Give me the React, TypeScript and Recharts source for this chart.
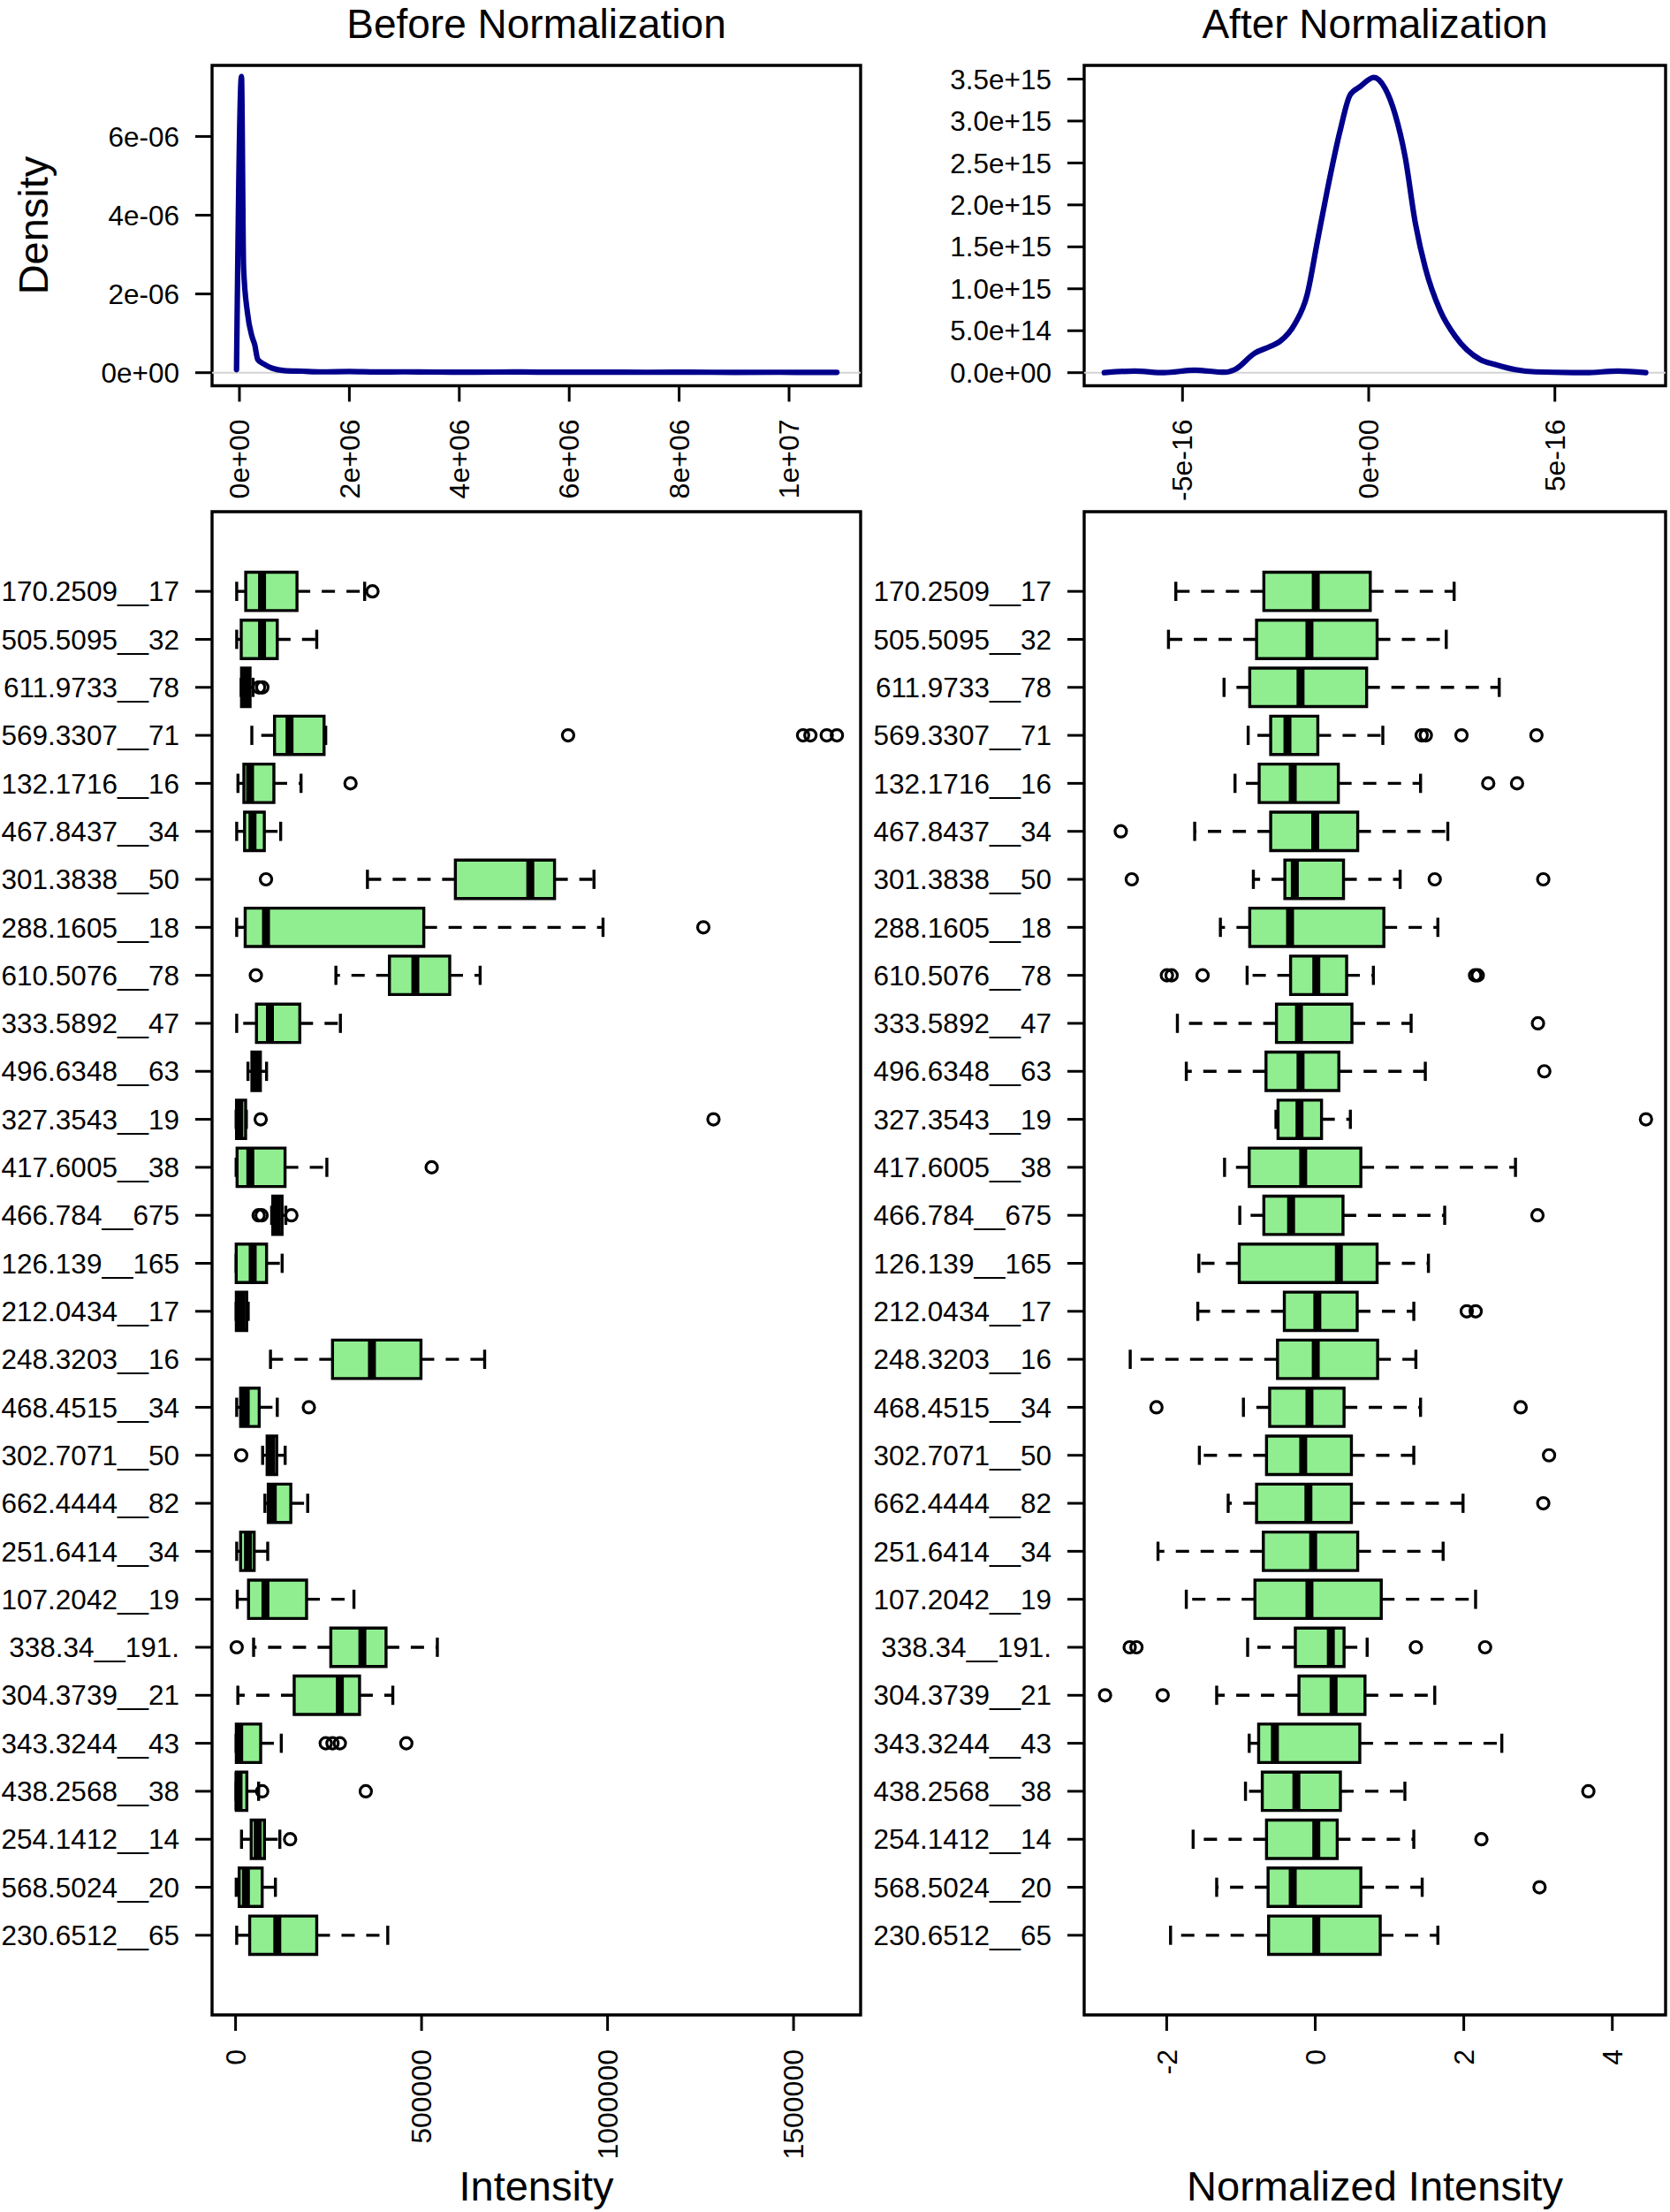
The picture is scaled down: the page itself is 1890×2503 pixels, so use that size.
import React from "react";
import {
  LineChart,
  Line,
  ScatterChart,
  Scatter,
  XAxis,
  YAxis,
  ReferenceArea,
  ReferenceLine,
} from "recharts";

if (typeof document !== "undefined") {
  document.body.style.margin = "0";
}

const FONT = "'Liberation Sans', Arial, Helvetica, sans-serif";

// ---------- Density: before normalization ----------
const densBeforeX = [
  -53000, 37000, 75600, 144700, 225000, 278000, 333000, 439000, 600000, 815000,
  1137000, 1500000, 2000000, 2500000, 3000000, 3600000, 4300000, 5000000,
  5800000, 6600000, 7400000, 8200000, 9000000, 9800000, 10500000, 10870000,
];
const densBeforeY = [
  0.076e-6, 7.52e-6, 2.66e-6, 1.535e-6, 0.936e-6, 0.712e-6, 0.337e-6, 0.224e-6,
  0.112e-6, 0.054e-6, 0.038e-6, 0.022e-6, 0.03e-6, 0.018e-6, 0.022e-6, 0.016e-6,
  0.014e-6, 0.017e-6, 0.012e-6, 0.014e-6, 0.01e-6, 0.012e-6, 0.009e-6, 0.01e-6,
  0.008e-6, 0.008e-6,
];

// ---------- Density: after normalization ----------
const densAfterX = [
  -7.1e-16, -6.29e-16, -5.49e-16, -4.68e-16, -3.87e-16, -3.6e-16, -3.06e-16,
  -2.66e-16, -2.39e-16, -1.98e-16, -1.65e-16, -1.38e-16, -1.11e-16, -0.77e-16,
  -0.5e-16, -0.23e-16, 0.14e-16, 0.44e-16, 0.71e-16, 0.98e-16, 1.25e-16,
  1.52e-16, 1.92e-16, 2.33e-16, 3.0e-16, 3.4e-16, 3.94e-16, 4.48e-16, 5.83e-16,
  6.7e-16, 7.44e-16,
];
const densAfterY = [
  0.0, 0.019e15, 0.0, 0.03e15, 0.005e15, 0.036e15, 0.233e15, 0.31e15, 0.37e15,
  0.584e15, 0.935e15, 1.56e15, 2.18e15, 2.88e15, 3.31e15, 3.41e15, 3.52e15,
  3.39e15, 3.08e15, 2.57e15, 1.79e15, 1.25e15, 0.74e15, 0.43e15, 0.155e15,
  0.097e15, 0.036e15, 0.01e15, 0.0, 0.02e15, 0.0,
];

// ---------- Box plots ----------
const featureLabels = [
  "170.2509__17", "505.5095__32", "611.9733__78", "569.3307__71", "132.1716__16",
  "467.8437__34", "301.3838__50", "288.1605__18", "610.5076__78", "333.5892__47",
  "496.6348__63", "327.3543__19", "417.6005__38", "466.784__675", "126.139__165",
  "212.0434__17", "248.3203__16", "468.4515__34", "302.7071__50", "662.4444__82",
  "251.6414__34", "107.2042__19", "338.34__191.", "304.3739__21", "343.3244__43",
  "438.2568__38", "254.1412__14", "568.5024__20", "230.6512__65",
];

const rawLo = [3000, 3000, 15000, 43700, 6400, 3000, 354500, 3000, 269700, 3000, 33300, 1500, 1500, 97000, 1500, 1500, 93900, 3000, 72700, 78800, 3000, 4500, 48500, 6100, 1500, 1500, 16000, 1700, 3000];
const rawQ1 = [27300, 15200, 16000, 104700, 22300, 24200, 590900, 25800, 413600, 56100, 43900, 2500, 4000, 100000, 1700, 2000, 260600, 13600, 84800, 87900, 13600, 34800, 256000, 157600, 2000, 2000, 42000, 9700, 37900];
const rawMed = [71200, 71200, 30000, 145000, 39000, 45500, 792300, 81800, 483300, 92400, 54500, 10000, 39700, 111000, 46000, 16000, 366600, 27300, 95400, 100000, 33300, 80300, 340900, 280300, 9700, 8000, 59500, 27800, 112100];
const rawQ3 = [165100, 112100, 39000, 237900, 103000, 77300, 857500, 506000, 575700, 172700, 66700, 27000, 133000, 125000, 83300, 30000, 498400, 63600, 110600, 148500, 50000, 190900, 404500, 333300, 67500, 30300, 77700, 71500, 218200];
const rawHi = [347000, 218200, 47000, 242400, 176000, 121200, 963500, 987800, 657500, 281800, 83300, 29000, 245400, 135000, 125200, 34000, 669600, 112100, 133300, 193900, 86400, 318200, 542400, 422700, 122900, 62000, 119000, 107100, 409100];
const rawOutliers = [
  [368000], [], [63000, 72000], [893900, 1525600, 1545300, 1589200, 1616500], [309000],
  [], [81800], [1257500], [54500], [],
  [], [67500, 1284700], [527200], [62000, 70000, 150000], [],
  [], [], [197000], [15200], [],
  [], [], [3000], [], [242400, 260600, 280300, 459000],
  [71500, 350000], [146600], [], [],
];

const normLo = [-1.877, -1.976, -1.228, -0.903, -1.08, -1.623, -0.833, -1.277, -0.917, -1.856, -1.736, -0.529, -1.221, -1.016, -1.567, -1.581, -2.491, -0.967, -1.56, -1.172, -2.117, -1.736, -0.91, -1.327, -0.889, -0.939, -1.644, -1.327, -1.948];
const normQ1 = [-0.692, -0.79, -0.882, -0.6, -0.755, -0.6, -0.409, -0.882, -0.332, -0.522, -0.663, -0.501, -0.889, -0.692, -1.023, -0.416, -0.508, -0.614, -0.656, -0.79, -0.699, -0.812, -0.268, -0.219, -0.762, -0.713, -0.656, -0.635, -0.628];
const normMed = [0.007, -0.078, -0.198, -0.374, -0.303, 0.0, -0.275, -0.339, 0.014, -0.219, -0.198, -0.212, -0.162, -0.325, 0.318, 0.028, 0.007, -0.078, -0.162, -0.092, -0.028, -0.078, 0.21, 0.247, -0.543, -0.254, 0.014, -0.303, 0.014];
const normQ3 = [0.741, 0.833, 0.692, 0.035, 0.311, 0.572, 0.381, 0.924, 0.423, 0.494, 0.318, 0.085, 0.614, 0.374, 0.833, 0.565, 0.84, 0.388, 0.487, 0.487, 0.572, 0.889, 0.388, 0.67, 0.6, 0.339, 0.296, 0.614, 0.875];
const normHi = [1.87, 1.764, 2.477, 0.91, 1.418, 1.785, 1.143, 1.651, 0.783, 1.291, 1.482, 0.473, 2.696, 1.743, 1.524, 1.327, 1.355, 1.418, 1.327, 1.99, 1.722, 2.159, 0.699, 1.609, 2.512, 1.207, 1.327, 1.44, 1.651];
const normOutliers = [
  [], [], [], [1.433, 1.489, 1.969, 2.978], [2.329, 2.717],
  [-2.618], [-2.47, 1.609, 3.07], [], [-1.997, -1.934, -1.517, 2.152, 2.188], [2.999],
  [3.084], [4.453], [], [2.992], [],
  [2.04, 2.16], [], [-2.138, 2.766], [3.148], [3.07],
  [], [], [-2.498, -2.407, 1.355, 2.287], [-2.83, -2.054], [],
  [3.677], [2.237], [3.02], [],
];

// ---------- Axis ticks ----------
const beforeDensXTicks = [0, 2e6, 4e6, 6e6, 8e6, 1e7];
const beforeDensXLabels = ["0e+00", "2e+06", "4e+06", "6e+06", "8e+06", "1e+07"];
const beforeDensYTicks = [0, 2e-6, 4e-6, 6e-6];
const beforeDensYLabels = ["0e+00", "2e-06", "4e-06", "6e-06"];
const afterDensXTicks = [-5e-16, 0, 5e-16];
const afterDensXLabels = ["-5e-16", "0e+00", "5e-16"];
const afterDensYTicks = [0, 0.5e15, 1e15, 1.5e15, 2e15, 2.5e15, 3e15, 3.5e15];
const afterDensYLabels = ["0.0e+00", "5.0e+14", "1.0e+15", "1.5e+15", "2.0e+15", "2.5e+15", "3.0e+15", "3.5e+15"];
const rawXTicks = [0, 500000, 1000000, 1500000];
const rawXLabels = ["0", "500000", "1000000", "1500000"];
const normXTicks = [-2, 0, 2, 4];
const normXLabels = ["-2", "0", "2", "4"];

// ---------- Domains (R style, 4% extension) ----------
const beforeDensXDomain = [-498000, 11302000];
const beforeDensYDomain = [-0.332e-6, 7.805e-6];
const afterDensXDomain = [-7.641e-16, 7.973e-16];
const afterDensYDomain = [-0.156e15, 3.663e15];
const rawXDomain = [-63200, 1680300];
const normXDomain = [-3.111, 4.717];
const nRows = featureLabels.length;
const boxYDomain = [0.5 - 0.04 * nRows, nRows + 0.5 + 0.04 * nRows];
const rowPositions = featureLabels.map((_, i) => i + 1);

const BOX_FILL = "#90EE90";
const LINE_COL = "#00008B";
const LW = 3.4;

const makeFormatter = (ticks: number[], labels: string[]) => (v: number) => {
  const idx = ticks.findIndex((t) => Math.abs(t - v) <= Math.abs(t) * 1e-9 + 1e-30);
  return idx >= 0 ? labels[idx] : String(v);
};

const RotTick = (props: any) => {
  const { x, y, payload, fmt } = props;
  return (
    <text
      x={x}
      y={y}
      transform={`rotate(-90, ${x}, ${y})`}
      textAnchor="end"
      dy="0.35em"
      fontSize={32}
      fill="#000"
      fontFamily={FONT}
    >
      {fmt(payload.value)}
    </text>
  );
};

const tickStyle = { fontSize: 31.5, fill: "#000", fontFamily: FONT };
const tickLineStyle = { stroke: "#000", strokeWidth: 3 };

function densityChart(
  xs: number[],
  ys: number[],
  xDomain: number[],
  yDomain: number[],
  xTicks: number[],
  xLabels: string[],
  yTicks: number[],
  yLabels: string[],
  width: number,
  yAxisWidth: number,
  rightMargin: number
) {
  const data = xs.map((x, i) => ({ x, y: ys[i] }));
  const fx = makeFormatter(xTicks, xLabels);
  const fy = makeFormatter(yTicks, yLabels);
  return (
    <LineChart width={width} height={600} data={data} margin={{ top: 74, right: rightMargin, bottom: 0, left: 0 }}>
      <XAxis
        dataKey="x"
        type="number"
        domain={xDomain}
        allowDataOverflow
        ticks={xTicks}
        interval={0}
        height={163.5}
        axisLine={false}
        tickLine={tickLineStyle}
        tickSize={18}
        tickMargin={20}
        stroke="#000"
        tick={(p: any) => <RotTick {...p} fmt={fx} />}
      />
      <YAxis
        type="number"
        domain={yDomain}
        allowDataOverflow
        ticks={yTicks}
        interval={0}
        width={yAxisWidth}
        axisLine={false}
        tickLine={tickLineStyle}
        tickSize={19}
        tickMargin={18}
        stroke="#000"
        tick={tickStyle}
        tickFormatter={fy}
      />
      <ReferenceLine y={0} stroke="#D3D3D3" strokeWidth={2} ifOverflow="visible" />
      <Line
        dataKey="y"
        type="monotone"
        dot={false}
        stroke={LINE_COL}
        strokeWidth={6.2}
        strokeLinejoin="round"
        strokeLinecap="round"
        isAnimationActive={false}
      />
      <ReferenceArea
        x1={xDomain[0]}
        x2={xDomain[1]}
        y1={yDomain[0]}
        y2={yDomain[1]}
        fill="none"
        fillOpacity={0}
        stroke="#000"
        strokeWidth={3.4}
        ifOverflow="visible"
      />
    </LineChart>
  );
}

function boxChart(
  lo: number[],
  q1: number[],
  med: number[],
  q3: number[],
  hi: number[],
  outliers: number[][],
  xDomain: number[],
  xTicks: number[],
  xLabels: string[],
  width: number,
  yAxisWidth: number,
  rightMargin: number,
  prefix: string
) {
  const outData: { v: number; pos: number }[] = [];
  outliers.forEach((arr, i) => arr.forEach((v) => outData.push({ v, pos: i + 1 })));
  const fx = makeFormatter(xTicks, xLabels);
  const whiskers: any[] = [];
  const boxes: any[] = [];
  const medians: any[] = [];
  for (let i = 0; i < lo.length; i++) {
    const pos = i + 1;
    whiskers.push(
      <ReferenceLine key={`${prefix}wl${i}`} segment={[{ x: q1[i], y: pos }, { x: lo[i], y: pos }]} stroke="#000" strokeWidth={LW} strokeDasharray="15 13" ifOverflow="visible" />,
      <ReferenceLine key={`${prefix}wh${i}`} segment={[{ x: q3[i], y: pos }, { x: hi[i], y: pos }]} stroke="#000" strokeWidth={LW} strokeDasharray="15 13" ifOverflow="visible" />,
      <ReferenceLine key={`${prefix}sl${i}`} segment={[{ x: lo[i], y: pos - 0.2 }, { x: lo[i], y: pos + 0.2 }]} stroke="#000" strokeWidth={LW} ifOverflow="visible" />,
      <ReferenceLine key={`${prefix}sh${i}`} segment={[{ x: hi[i], y: pos - 0.2 }, { x: hi[i], y: pos + 0.2 }]} stroke="#000" strokeWidth={LW} ifOverflow="visible" />
    );
    boxes.push(
      <ReferenceArea key={`${prefix}b${i}`} x1={q1[i]} x2={q3[i]} y1={pos - 0.4} y2={pos + 0.4} fill={BOX_FILL} fillOpacity={1} stroke="#000" strokeWidth={LW} ifOverflow="visible" />
    );
    medians.push(
      <ReferenceLine key={`${prefix}m${i}`} segment={[{ x: med[i], y: pos - 0.4 }, { x: med[i], y: pos + 0.4 }]} stroke="#000" strokeWidth={9} ifOverflow="visible" />
    );
  }
  return (
    <ScatterChart width={width} height={1943} margin={{ top: 19, right: rightMargin, bottom: 0, left: 0 }}>
      <XAxis
        dataKey="v"
        type="number"
        domain={xDomain}
        allowDataOverflow
        ticks={xTicks}
        interval={0}
        height={223}
        axisLine={false}
        tickLine={tickLineStyle}
        tickSize={18}
        tickMargin={21}
        stroke="#000"
        tick={(p: any) => <RotTick {...p} fmt={fx} />}
      />
      <YAxis
        dataKey="pos"
        type="number"
        domain={boxYDomain}
        allowDataOverflow
        reversed
        ticks={rowPositions}
        interval={0}
        width={yAxisWidth}
        axisLine={false}
        tickLine={tickLineStyle}
        tickSize={19}
        tickMargin={18}
        stroke="#000"
        tick={tickStyle}
        tickFormatter={(v: number) => featureLabels[Math.round(v) - 1] ?? ""}
      />
      {whiskers}
      {boxes}
      {medians}
      <Scatter
        data={outData}
        isAnimationActive={false}
        shape={(p: any) => <circle cx={p.cx} cy={p.cy} r={6.5} fill="none" stroke="#000" strokeWidth={3.2} />}
      />
      <ReferenceArea
        x1={xDomain[0]}
        x2={xDomain[1]}
        y1={boxYDomain[0]}
        y2={boxYDomain[1]}
        fill="none"
        fillOpacity={0}
        stroke="#000"
        strokeWidth={3.4}
        ifOverflow="visible"
      />
    </ScatterChart>
  );
}

export default function App() {
  return (
    <div style={{ position: "relative", width: 1890, height: 2503, background: "#fff", fontFamily: FONT, overflow: "hidden" }}>
      <div style={{ position: "absolute", left: 0, top: 0 }}>
        {densityChart(densBeforeX, densBeforeY, beforeDensXDomain, beforeDensYDomain, beforeDensXTicks, beforeDensXLabels, beforeDensYTicks, beforeDensYLabels, 990, 240, 16)}
      </div>
      <div style={{ position: "absolute", left: 960, top: 0 }}>
        {densityChart(densAfterX, densAfterY, afterDensXDomain, afterDensYDomain, afterDensXTicks, afterDensXLabels, afterDensYTicks, afterDensYLabels, 930, 267, 5)}
      </div>
      <div style={{ position: "absolute", left: 0, top: 560 }}>
        {boxChart(rawLo, rawQ1, rawMed, rawQ3, rawHi, rawOutliers, rawXDomain, rawXTicks, rawXLabels, 990, 240, 16, "r")}
      </div>
      <div style={{ position: "absolute", left: 960, top: 560 }}>
        {boxChart(normLo, normQ1, normMed, normQ3, normHi, normOutliers, normXDomain, normXTicks, normXLabels, 930, 267, 5, "n")}
      </div>
      <svg width={1890} height={2503} style={{ position: "absolute", left: 0, top: 0, pointerEvents: "none" }}>
        <text x={607} y={43} textAnchor="middle" fontSize={46} fontFamily={FONT} fill="#000">Before Normalization</text>
        <text x={1556} y={43} textAnchor="middle" fontSize={46} fontFamily={FONT} fill="#000">After Normalization</text>
        <text x={54} y={255} textAnchor="middle" fontSize={47} fontFamily={FONT} fill="#000" transform="rotate(-90, 54, 255)">Density</text>
        <text x={607} y={2490} textAnchor="middle" fontSize={47} fontFamily={FONT} fill="#000">Intensity</text>
        <text x={1556} y={2490} textAnchor="middle" fontSize={47} fontFamily={FONT} fill="#000">Normalized Intensity</text>
      </svg>
    </div>
  );
}
